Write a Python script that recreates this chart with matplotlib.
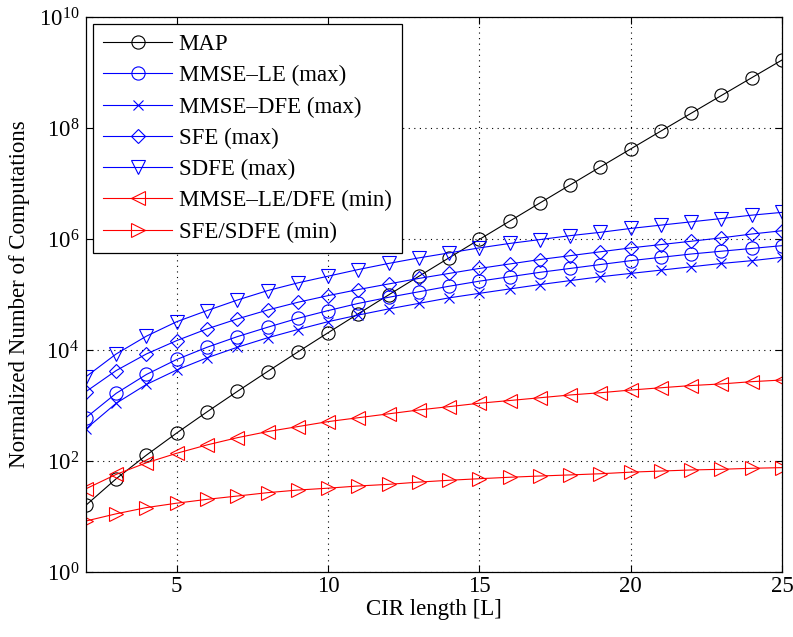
import matplotlib
matplotlib.use("Agg")
import matplotlib.pyplot as plt
from matplotlib.ticker import LogLocator, LogFormatterSciNotation, NullLocator

plt.rcParams['font.family'] = ['Liberation Serif', 'DejaVu Serif']
plt.rcParams['mathtext.fontset'] = 'stix'

L = list(range(2, 26))

map_vals = [16, 48, 128, 320, 768, 1792, 4096, 9216, 20480, 45056, 98304,
            212992, 458752, 983040, 2097152, 4456448, 9437184, 19922944,
            41943040, 88080384, 184549376, 385875968, 805306368, 1677721600]
mmse_le_max = [603, 1660, 3630, 6760, 11200, 17400, 25700, 37200, 51300, 69200,
               89100, 112000, 141000, 174000, 209000, 251000, 295000, 347000,
               407000, 468000, 537000, 603000, 676000, 759000]
mmse_dfe_max = [380, 1100, 2400, 4370, 7240, 11200, 16600, 23400, 32400, 42700,
                55000, 69200, 87100, 105000, 126000, 151000, 178000, 209000,
                240000, 275000, 316000, 363000, 407000, 468000]
sfe_max = [1780, 4270, 8510, 14800, 24000, 36300, 52500, 72400, 95500, 123000,
           155000, 195000, 240000, 295000, 355000, 427000, 501000, 589000,
           692000, 794000, 912000, 1050000, 1230000, 1410000]
sdfe_max = [3300, 8500, 17800, 32400, 51300, 79400, 117500, 162000, 214000,
            282000, 363000, 457000, 562000, 692000, 832000, 977000, 1150000,
            1320000, 1550000, 1780000, 2040000, 2340000, 2690000, 3020000]
mmse_le_dfe_min = [31.6, 57.5, 93, 138, 195, 263, 339, 417, 513, 603, 708, 832,
                   955, 1100, 1230, 1380, 1550, 1700, 1900, 2090, 2290, 2450,
                   2690, 2880]
sfe_sdfe_min = [8.3, 11.2, 14.5, 17.4, 20.4, 23.4, 26.9, 30, 32.4, 35.5, 38,
                41.7, 45, 48, 51, 53.7, 56.2, 59, 63, 66, 69, 71, 74, 76]

labels = ['MAP', 'MMSE\u2013LE (max)', 'MMSE\u2013DFE (max)', 'SFE (max)',
          'SDFE (max)', 'MMSE\u2013LE/DFE (min)', 'SFE/SDFE (min)']

fig = plt.figure(figsize=(7.93, 6.37), dpi=100)
ax = fig.add_axes([0.1084, 0.102, 0.8777, 0.8713])

lw = 0.8
mew = 0.8
ms = 9.5
series = [
    (map_vals, 'k', 'o'),
    (mmse_le_max, 'b', 'o'),
    (mmse_dfe_max, 'b', 'x'),
    (sfe_max, 'b', 'D'),
    (sdfe_max, 'b', 'v'),
    (mmse_le_dfe_min, 'r', '<'),
    (sfe_sdfe_min, 'r', '>'),
]
for (vals, c, m), lab in zip(series, labels):
    size = ms
    if m == 'D':
        size = ms * 0.75
    if m == 'x':
        size = ms * 0.8
    ax.semilogy(L, vals, color=c, marker=m, markersize=size, markerfacecolor='none',
                markeredgecolor=c, markeredgewidth=mew, linewidth=lw, label=lab)

fs = 16.5
ax.set_xlim(2, 25)
ax.set_ylim(1, 1e10)
ax.set_xticks([5, 10, 15, 20, 25])
ax.yaxis.set_major_locator(LogLocator(base=100.0, numticks=10))
ax.yaxis.set_major_formatter(LogFormatterSciNotation(base=10))
ax.yaxis.set_minor_locator(NullLocator())
ax.tick_params(direction='in', top=True, right=True, labelsize=fs, length=5, width=0.8)
ax.tick_params(axis='x', pad=3)
ax.tick_params(axis='y', pad=5)
ax.grid(True, which='major', linestyle=(0, (1, 4)), color='k', linewidth=0.8)
for s in ax.spines.values():
    s.set_linewidth(0.9)

ax.set_xlabel('CIR length [L]', fontsize=fs, labelpad=1)
ax.set_ylabel('Normalized Number of Computations', fontsize=fs, labelpad=6)

leg = ax.legend(loc='upper left', fontsize=fs, frameon=True, fancybox=False,
                edgecolor='k', framealpha=1, handlelength=3.0, labelspacing=0.44,
                borderaxespad=0.3, handletextpad=0.3, borderpad=0.45)
leg.get_frame().set_linewidth(0.9)

fig.savefig('out.png', dpi=100)
